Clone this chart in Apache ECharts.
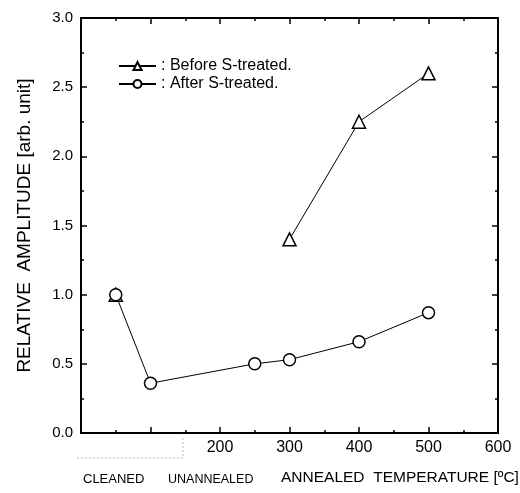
<!DOCTYPE html>
<html>
<head>
<meta charset="utf-8">
<script src="https://cdn.jsdelivr.net/npm/echarts@6/dist/echarts.min.js"></script>
<style>
  html, body { margin: 0; padding: 0; background: #fff; }
  #chart { width: 520px; height: 493px; }
</style>
</head>
<body>
<div id="chart"></div>
<script>
// temperature positions (50 = cleaned, 100 = unannealed)
var beforeX = [50, 175, 300, 400, 500];
var beforeY = [1.0, null, 1.40, 2.25, 2.60];
var afterX = [50, 100, 250, 300, 400, 500];
var afterY = [1.0, 0.36, 0.50, 0.53, 0.66, 0.87];
var xTickLabels = ['', '', '200', '300', '400', '500', '600'];

function pairs(xs, ys) {
    var out = [];
    xs.forEach(function(x, i) {
        out.push([x, ys[i] === null ? '-' : ys[i]]);
    });
    return out;
}

var chart = echarts.init(document.getElementById('chart'));
var font = 'Liberation Sans, Arial, sans-serif';

var axisBase = {
    axisLine: {show: true, onZero: false, lineStyle: {color: '#000', width: 2}},
    axisTick: {show: true, inside: true, length: 6, lineStyle: {color: '#000', width: 1.5}},
    minorTick: {show: true, splitNumber: 2, length: 3, lineStyle: {color: '#000', width: 1.5}},
    splitLine: {show: false}
};

var option = {
    animation: false,
    backgroundColor: '#fff',
    textStyle: {fontFamily: font},
    grid: {left: 81, right: 22, top: 18, bottom: 60},
    legend: {
        left: 113,
        top: 53,
        orient: 'vertical',
        itemWidth: 37,
        itemHeight: 10,
        itemGap: 2,
        textStyle: {fontSize: 16, lineHeight: 16, color: '#000', fontFamily: font},
        formatter: function(name) { return ': ' + name; },
        data: ['Before S-treated.', 'After S-treated.']
    },
    xAxis: [
        Object.assign({}, axisBase, {
            type: 'value', min: 0, max: 600, interval: 100, position: 'bottom',
            axisLabel: {
                color: '#000', fontSize: 16, margin: 7,
                formatter: function(v) { return xTickLabels[v / 100]; }
            }
        }),
        Object.assign({}, axisBase, {
            type: 'value', min: 0, max: 600, interval: 100, position: 'top',
            axisLabel: {show: false}
        })
    ],
    yAxis: [
        Object.assign({}, axisBase, {
            type: 'value', min: 0, max: 3, interval: 0.5, position: 'left',
            name: 'RELATIVE  AMPLITUDE [arb. unit]',
            nameLocation: 'middle',
            nameGap: 47,
            nameTextStyle: {fontSize: 19, color: '#000', fontFamily: font},
            axisLabel: {
                color: '#000', fontSize: 15, margin: 8,
                formatter: function(v) { return v.toFixed(1); }
            }
        }),
        Object.assign({}, axisBase, {
            type: 'value', min: 0, max: 3, interval: 0.5, position: 'right',
            axisLabel: {show: false}
        })
    ],
    graphic: [
        {type: 'text', left: 83, top: 473, style: {text: 'CLEANED', fontSize: 13, fill: '#000', fontFamily: font}},
        {type: 'text', left: 168, top: 473, style: {text: 'UNANNEALED', fontSize: 12.5, fill: '#000', fontFamily: font}},
        {type: 'text', left: 281, top: 470, style: {text: 'ANNEALED  TEMPERATURE [ºC]', fontSize: 15.5, fill: '#000', fontFamily: font}},
        {type: 'polyline', shape: {points: [[77, 458], [183, 458], [183, 436]]},
            style: {stroke: '#bbb', lineWidth: 1, lineDash: [2, 2], fill: null}}
    ],
    series: [
        {
            name: 'Before S-treated.',
            type: 'line',
            data: pairs(beforeX, beforeY),
            connectNulls: false,
            symbol: 'triangle',
            symbolSize: 13,
            itemStyle: {color: '#fff', borderColor: '#000', borderWidth: 1.5},
            lineStyle: {color: '#000', width: 1}
        },
        {
            name: 'After S-treated.',
            type: 'line',
            data: pairs(afterX, afterY),
            symbol: 'circle',
            symbolSize: 12,
            itemStyle: {color: '#fff', borderColor: '#000', borderWidth: 1.5},
            lineStyle: {color: '#000', width: 1}
        }
    ]
};

chart.setOption(option);
</script>
</body>
</html>
